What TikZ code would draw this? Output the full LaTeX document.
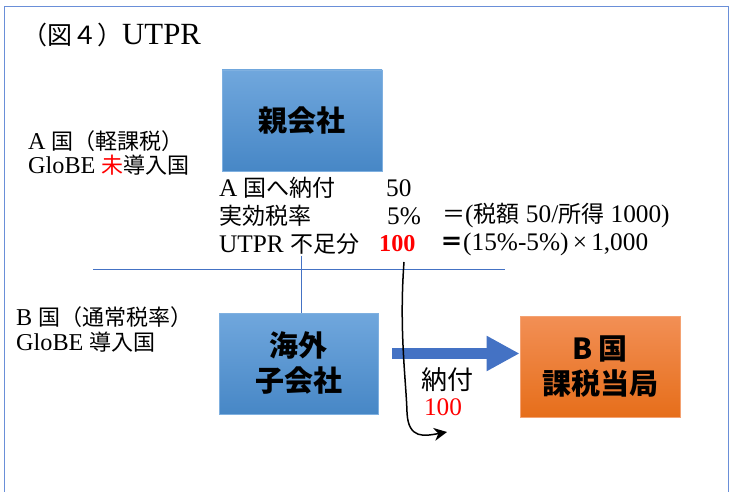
\documentclass[tikz,border=0pt]{standalone}
\usepackage{fontspec}
\setmainfont[Scale=1.1]{Liberation Serif}
\newfontfamily\jp{Noto Sans CJK JP}
\usetikzlibrary{arrows.meta}
\definecolor{frameblue}{HTML}{6A8FD8}
\definecolor{lineblue}{HTML}{4472C4}
\definecolor{boxtop}{HTML}{70A7DD}
\definecolor{boxbot}{HTML}{4787C6}
\definecolor{boxedge}{HTML}{7FB0E0}
\definecolor{orgtop}{HTML}{F28F55}
\definecolor{orgbot}{HTML}{E66E1A}
\definecolor{orgedge}{HTML}{F4A272}
\definecolor{txtred}{HTML}{FF0000}
\begin{document}
\begin{tikzpicture}[x=1pt,y=-1pt,
  boxbase/.style={line width=0.8pt, minimum width=160pt, minimum height=101pt,
    inner sep=0pt, align=center, font=\jp\bfseries\fontsize{29}{35}\selectfont},
  bluebox/.style={boxbase, draw=boxedge, top color=boxtop, bottom color=boxbot},
  orangebox/.style={boxbase, draw=orgedge, top color=orgtop, bottom color=orgbot},
  txt/.style={anchor=west, inner sep=0pt, font=\fontsize{23}{22}\selectfont},
  sidetxt/.style={anchor=west, inner sep=0pt, align=left, font=\fontsize{22}{24.5}\selectfont},
  thinline/.style={draw=lineblue, line width=1pt},
  bigarrow/.style={draw=lineblue, line width=11pt, -{Triangle[length=33pt,width=33pt]}},
  payarrow/.style={draw=black, line width=1.5pt, -{Stealth[length=13pt,width=13pt]}}
]
\useasboundingbox (0,0) rectangle (729,492);
% frame
\draw[frameblue, line width=1.3pt] (4.3,492) -- (4.3,6.7) -- (728.3,6.7) -- (728.3,492);

% title
\node[txt, font=\fontsize{28}{30}\selectfont] (title) at (22,35) {{\jp\fontsize{25}{30}\selectfont （図４）}UTPR};

% left labels
\node[sidetxt] (aA) at (28,153) {A {\jp 国（軽課税）}\\GloBE {\jp\color{txtred}未}{\jp 導入国}};
\node[sidetxt] (bA) at (16,329.5) {B {\jp 国（通常税率）}\\GloBE {\jp 導入国}};

% boxes
\node[bluebox] (parent) at (302,120.5) {親会社};
\node[bluebox, minimum width=159pt] (child) at (298.5,363.5) {海外\\子会社};
\node[orangebox] (tax) at (600,367) {B 国\\課税当局};

% info lines
\node[txt] (l1a) at (219,188) {A {\jp 国へ納付}};
\node[txt] (l1b) at (386,188) {50};
\node[txt] (l2a) at (219,216) {\jp 実効税率};
\node[txt] (l2b) at (387,216) {5\%};
\node[txt] (l2c) at (442,216) {{\jp ＝}({\jp 税額} 50/{\jp 所得} 1000)};
\node[txt] (l3a) at (219,244) {UTPR {\jp 不足分}};
\node[txt, text=txtred, font=\fontsize{22}{22}\selectfont] (l3b) at (379,244) {\textbf{100}};
\node[txt] (l3c) at (440,244) {{\jp\bfseries ＝}(15\%-5\%)\,×\,1,000};

% divider and connector
\coordinate (hl1) at (93,269);
\coordinate (hl2) at (505,269);
\draw[thinline] (hl1) -- (hl2);
\coordinate (vtop) at (301,256);
\draw[thinline] (vtop) -- (vtop |- child.north);

% big blue arrow
\draw[bigarrow] (child.east) ++(14,-10) coordinate (a0) -- (a0 -| tax.west);

% payment curve
\coordinate (p0) at (404,262);
\coordinate (p1) at (447,432);
\draw[payarrow] (p0) .. controls (399,330) and (406,380) .. (407,412)
  .. controls (408,440) and (425,436) .. (p1);
\node[inner sep=0pt, font=\jp\fontsize{26}{26}\selectfont] (pay) at (447,380) {納付};
\node[inner sep=0pt, text=txtred, font=\fontsize{23}{25}\selectfont] (payn) at (443,407) {100};
\end{tikzpicture}
\end{document}
